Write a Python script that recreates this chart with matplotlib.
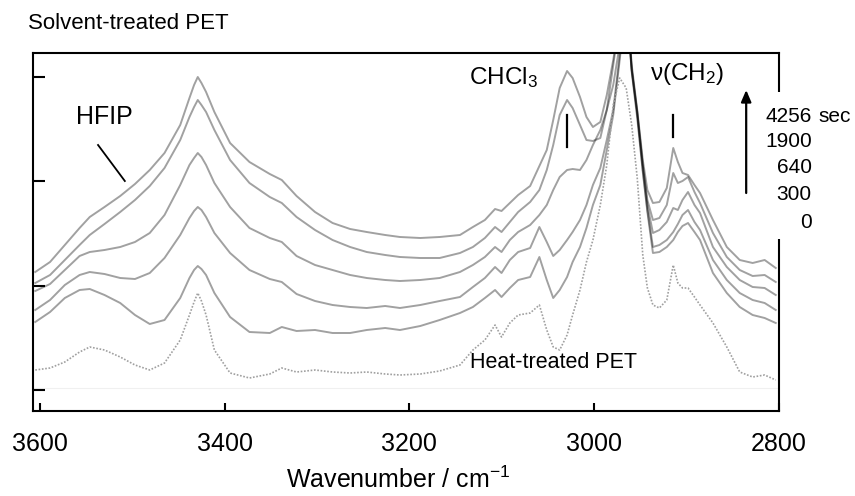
import matplotlib
matplotlib.use('Agg')
import matplotlib.pyplot as plt
from matplotlib.patches import Rectangle

plt.rcParams['font.family'] = ['Liberation Sans', 'DejaVu Sans']
plt.rcParams['mathtext.fontset'] = 'custom'
plt.rcParams['mathtext.rm'] = 'Liberation Sans'
plt.rcParams['mathtext.it'] = 'Liberation Sans:italic'

# ---------------- data (wavenumber in cm-1, absorbance in arbitrary offset units) -------------
wavenumber = [3605, 3589, 3573, 3557, 3546, 3530, 3513, 3497, 3481, 3465,
              3448, 3438, 3433, 3429, 3425, 3420, 3411, 3394, 3373, 3351, 3338, 3322,
              3302, 3283, 3264, 3246, 3226, 3210, 3188, 3167, 3145, 3131,
              3118, 3107, 3100, 3091, 3082, 3069, 3059, 3051, 3044, 3037,
              3029, 3023, 3015, 3008, 3001, 2993, 2986, 2979, 2972, 2965,
              2959, 2953, 2947, 2942, 2936, 2929, 2921, 2914, 2909, 2904,
              2898, 2891, 2885, 2871, 2856, 2842, 2828, 2815, 2803]

abs_4256 = [118, 128, 145, 162, 173, 183, 194, 206, 220, 237,
            265, 292, 305, 313, 307, 298, 278, 247, 228, 216, 210, 194,
            178, 167, 161, 158, 155, 153, 152, 153, 155, 163,
            170, 181, 179, 187, 195, 204, 224, 240, 270, 302,
            319, 312, 293, 273, 263, 268, 295, 330, 370, 405,
            325, 280, 230, 200, 187, 188, 202, 242, 228, 217,
            215, 205, 197, 170, 143, 130, 127, 130, 122]

abs_1900 = [107, 115, 130, 145, 155, 166, 178, 190, 204, 222,
            250, 273, 283, 290, 285, 278, 260, 230, 207, 193, 187, 173,
            160, 150, 143, 138, 135, 133, 132, 132, 137, 143,
            152, 163, 158, 168, 178, 188, 200, 220, 245, 275,
            290, 282, 265, 250, 249, 252, 280, 325, 370, 400,
            322, 278, 225, 190, 170, 172, 185, 217, 207, 209,
            213, 198, 187, 157, 133, 120, 114, 115, 108]

abs_640 = [99, 106, 120, 134, 138, 140, 143, 148, 157, 175,
           205, 225, 232, 237, 233, 225, 207, 183, 162, 152, 148, 134,
           125, 120, 115, 112, 110, 109, 110, 112, 118, 125,
           133, 143, 138, 150, 158, 165, 175, 185, 200, 213,
           220, 221, 220, 230, 245, 260, 280, 305, 345, 395,
           320, 278, 225, 185, 157, 160, 168, 182, 180, 190,
           198, 185, 177, 143, 123, 110, 103, 102, 95]

abs_300 = [80, 90, 105, 115, 118, 116, 112, 111, 117, 132,
           155, 172, 179, 183, 180, 173, 157, 137, 120, 111, 108, 96,
           89, 85, 83, 82, 84, 82, 85, 89, 93, 103,
           112, 123, 117, 130, 138, 142, 163, 148, 134, 140,
           150, 158, 170, 185, 205, 222, 250, 280, 335, 395,
           320, 275, 220, 180, 143, 145, 150, 158, 166, 175,
           180, 168, 160, 130, 110, 97, 90, 87, 80]

abs_0 = [68, 78, 92, 100, 101, 95, 87, 75, 66, 70,
         92, 112, 120, 124, 121, 115, 97, 73, 58, 57, 63, 59,
         60, 57, 57, 60, 62, 60, 64, 70, 77, 83,
         92, 100, 93, 102, 110, 113, 133, 110, 92, 100,
         113, 128, 143, 162, 185, 205, 240, 275, 330, 390,
         318, 272, 218, 178, 137, 138, 143, 150, 158, 164,
         167, 158, 150, 117, 97, 83, 75, 72, 67]

abs_heat = [20, 22, 28, 38, 43, 40, 33, 25, 20, 27,
            50, 75, 88, 97, 89, 75, 40, 17, 12, 16, 22, 18,
            20, 18, 17, 18, 16, 15, 16, 19, 25, 40,
            50, 65, 53, 67, 75, 77, 85, 60, 43, 40,
            55, 75, 100, 128, 150, 185, 225, 285, 312, 302,
            265, 212, 135, 102, 85, 82, 90, 125, 107, 102,
            102, 93, 85, 67, 43, 18, 13, 15, 10]

time_labels = ['4256', '1900', '640', '300', '0']
solvent_series = [abs_4256, abs_1900, abs_640, abs_300, abs_0]
x_ticks = [3600, 3400, 3200, 3000, 2800]
tick_step = 104.3
y_ticks = [0, tick_step, 2 * tick_step, 3 * tick_step]

# ---------------- figure ----------------
fig = plt.figure(figsize=(8.55, 4.96), dpi=100)
ax = fig.add_axes([32.5 / 855, 85 / 496, 746 / 855, 357.5 / 496])

for vals in solvent_series:
    ax.plot(wavenumber, vals, color='black', alpha=0.37, lw=1.4,
            solid_joinstyle='round', zorder=2)
ax.plot(wavenumber, abs_heat, color='#a0a0a0', lw=1.2, ls=(0, (1, 1)), zorder=2)

ax.axhline(2, color='#f0f0f0', lw=0.8, zorder=1)

ax.set_xlim(3608, 2800)
ax.set_ylim(-21, 336.5)
ax.set_xticks(x_ticks)
ax.set_xticklabels([str(t) for t in x_ticks])
ax.set_yticks(y_ticks)
ax.set_yticklabels([])

for s in ax.spines.values():
    s.set_linewidth(1.5)
ax.tick_params(axis='x', direction='in', length=6, width=1.5, labelsize=18, pad=15)
ax.tick_params(axis='y', direction='in', length=8.6, width=1.5)

ax.set_xlabel(r'Wavenumber / cm$^{\mathregular{-1}}$', fontsize=18)
ax.xaxis.set_label_coords(0.49, -0.155)

# hide part of the right spine behind the time legend
ax.add_patch(Rectangle((0.985, (411 - 239) / 357.5), 0.04, (239 - 92) / 357.5,
                       transform=ax.transAxes, facecolor='white', edgecolor='none',
                       clip_on=False, zorder=5))

# annotations
ax.text(3561, 273, 'HFIP', fontsize=18, ha='left', va='center')
ax.plot([3537, 3508], [245, 209], color='black', lw=1.3)

ax.text(3135, 312, r'CHCl$_\mathregular{3}$', fontsize=17.5, ha='left', va='center')
ax.plot([3029, 3029], [243, 275], color='black', lw=1.6)

ax.text(2939, 316, r'ν(CH$_\mathregular{2}$)', fontsize=17.5, ha='left', va='center')
ax.plot([2914, 2914], [253, 275], color='black', lw=1.6)

ax.text(3134, 27, 'Heat-treated PET', fontsize=15.5, ha='left', va='center')

ax.annotate('', xy=(2835, 300), xytext=(2835, 197),
            arrowprops=dict(arrowstyle='-|>,head_length=0.7,head_width=0.3',
                            color='black', lw=1.6, shrinkA=0, shrinkB=0),
            annotation_clip=False, zorder=6)

legend_y = [273, 248, 222, 195, 168]
for lab, yy in zip(time_labels, legend_y):
    ax.text(2764, yy, lab, fontsize=15, ha='right', va='center', zorder=7, clip_on=False)
ax.text(2757, legend_y[0], 'sec', fontsize=15, ha='left', va='center', zorder=7, clip_on=False)

fig.text(28 / 855, 1 - 23.5 / 496, 'Solvent-treated PET', fontsize=16, ha='left', va='center')

fig.savefig('out.png', dpi=100)
